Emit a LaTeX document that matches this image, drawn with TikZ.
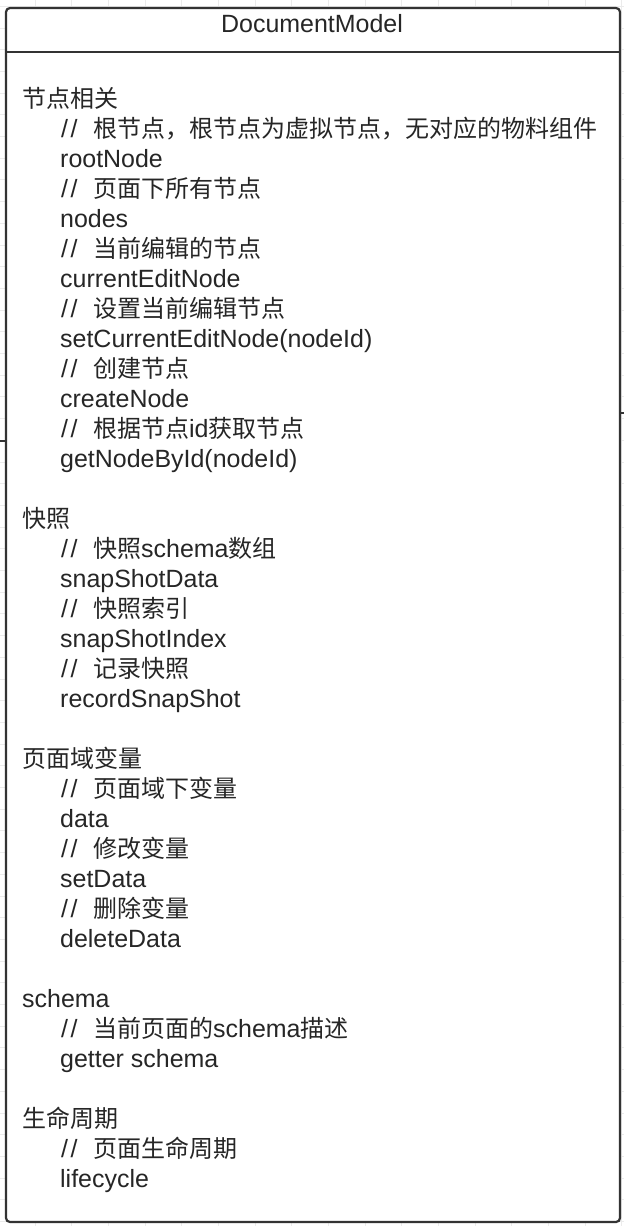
\documentclass[tikz,border=0pt]{standalone}
\usepackage{fontspec}
\setmainfont{Liberation Sans}[Scale=1.04]
\newfontfamily\cjk{Noto Sans CJK SC}
\newcommand{\zh}[1]{{\cjk #1}}
\newcommand{\lat}[1]{{\rmfamily #1}}
\newcommand{\cm}[1]{\makebox[33pt][l]{\kern1pt/\kern2.5pt/}{\cjk #1}}
\definecolor{ink}{HTML}{262626}
\definecolor{frame}{HTML}{333333}
\definecolor{gridc}{HTML}{EBEBEB}
\tikzset{
  gridline/.style={draw=gridc, line width=0.8pt},
  classbox/.style={draw=frame, line width=2.2pt, rounded corners=4pt, fill=white,
    minimum width=614pt, minimum height=1214pt, inner sep=0pt},
  sepline/.style={draw=frame, line width=1.8pt},
  tick/.style={draw=frame, line width=1.6pt},
  txt/.style={anchor=base west, inner sep=0pt, text=ink,
    font=\fontsize{24}{30}\selectfont},
  hd/.style={anchor=base, inner sep=0pt, text=ink,
    font=\fontsize{24}{30}\selectfont}
}
\begin{document}
\begin{tikzpicture}[x=1pt,y=-1pt]
\useasboundingbox (0,0) rectangle (624,1226);
\fill[white] (0,0) rectangle (624,1226);
\foreach \k in {0,...,16} \draw[gridline] ({35+36.67*\k},0) -- ++(0,1226);
\foreach \k in {0,...,56} \draw[gridline] (0,{6.2+21.7*\k}) -- ++(624,0);
\node[classbox] (box) at (313,615) {};
\coordinate (sepl) at (6,52);
\coordinate (sepr) at (620,52);
\draw[sepline] (sepl) -- (sepr);
\coordinate (lt) at (0,441);
\coordinate (rt) at (624,413);
\draw[tick] (lt) -- (box.west |- lt);
\draw[tick] (box.east |- rt) -- (rt);
\node[hd] (title) at (312,32) {DocumentModel};
% group 1
\node[txt] (g1) at (22,107) {\zh{节点相关}};
\node[txt] (l1) at (60,137) {\cm{根节点，根节点为虚拟节点，无对应的物料组件}};
\node[txt] (l2) at (60,167) {rootNode};
\node[txt] (l3) at (60,197) {\cm{页面下所有节点}};
\node[txt] (l4) at (60,227) {nodes};
\node[txt] (l5) at (60,257) {\cm{当前编辑的节点}};
\node[txt] (l6) at (60,287) {currentEditNode};
\node[txt] (l7) at (60,317) {\cm{设置当前编辑节点}};
\node[txt] (l8) at (60,347) {setCurrentEditNode(nodeId)};
\node[txt] (l9) at (60,377) {\cm{创建节点}};
\node[txt] (l10) at (60,407) {createNode};
\node[txt] (l11) at (60,437) {\cm{根据节点\lat{id}获取节点}};
\node[txt] (l12) at (60,467) {getNodeById(nodeId)};
% group 2
\node[txt] (g2) at (22,527) {\zh{快照}};
\node[txt] (l15) at (60,557) {\cm{快照\lat{schema}数组}};
\node[txt] (l16) at (60,587) {snapShotData};
\node[txt] (l17) at (60,617) {\cm{快照索引}};
\node[txt] (l18) at (60,647) {snapShotIndex};
\node[txt] (l19) at (60,677) {\cm{记录快照}};
\node[txt] (l20) at (60,707) {recordSnapShot};
% group 3
\node[txt] (g3) at (22,767) {\zh{页面域变量}};
\node[txt] (l23) at (60,797) {\cm{页面域下变量}};
\node[txt] (l24) at (60,827) {data};
\node[txt] (l25) at (60,857) {\cm{修改变量}};
\node[txt] (l26) at (60,887) {setData};
\node[txt] (l27) at (60,917) {\cm{删除变量}};
\node[txt] (l28) at (60,947) {deleteData};
% group 4
\node[txt] (g4) at (22,1007) {schema};
\node[txt] (l31) at (60,1037) {\cm{当前页面的\lat{schema}描述}};
\node[txt] (l32) at (60,1067) {getter schema};
% group 5
\node[txt] (g5) at (22,1127) {\zh{生命周期}};
\node[txt] (l35) at (60,1157) {\cm{页面生命周期}};
\node[txt] (l36) at (60,1187) {lifecycle};
\end{tikzpicture}
\end{document}
